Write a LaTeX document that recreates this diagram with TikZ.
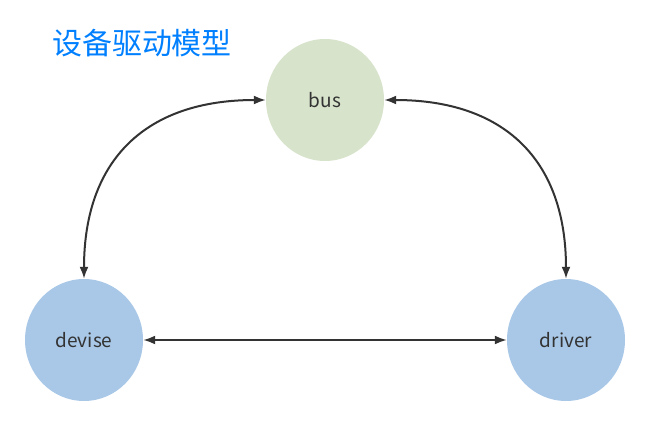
\documentclass[tikz,border=0pt]{standalone}
\usepackage{fontspec}
\setmainfont{Noto Sans CJK SC}
\usepackage{xcolor}
\usetikzlibrary{arrows.meta}
\usetikzlibrary{shapes.geometric}
\definecolor{titleblue}{RGB}{0,127,255}
\definecolor{busgreen}{RGB}{215,227,203}
\definecolor{partblue}{RGB}{169,200,232}
\definecolor{linegray}{RGB}{51,51,51}

\begin{document}
\begin{tikzpicture}[x=1pt, y=-1pt,
  blob/.style = {ellipse, minimum width=118pt, minimum height=122pt, inner sep=0pt,
                 text=linegray, font=\fontsize{19}{21}\selectfont},
  link/.style = {draw=linegray, line width=2pt,
                 {Latex[length=12pt,width=9pt]}-{Latex[length=12pt,width=9pt]}}]
\useasboundingbox (0,0) rectangle (648,425);
\node[text=titleblue, font=\fontsize{30}{33}\selectfont] (title) at (142,43) {设备驱动模型};
\node[blob, fill=busgreen] (bus) at (325,100) {bus};
\node[blob, fill=partblue] (devise) at (84,340) {devise};
\node[blob, fill=partblue] (driver) at (566,340) {driver};
\draw[link] (bus.west) to[out=180, in=90, looseness=1.2] (devise.north);
\draw[link] (bus.east) to[out=0, in=90, looseness=1.2] (driver.north);
\draw[link] (devise.east) -- (driver.west);
\end{tikzpicture}
\end{document}
